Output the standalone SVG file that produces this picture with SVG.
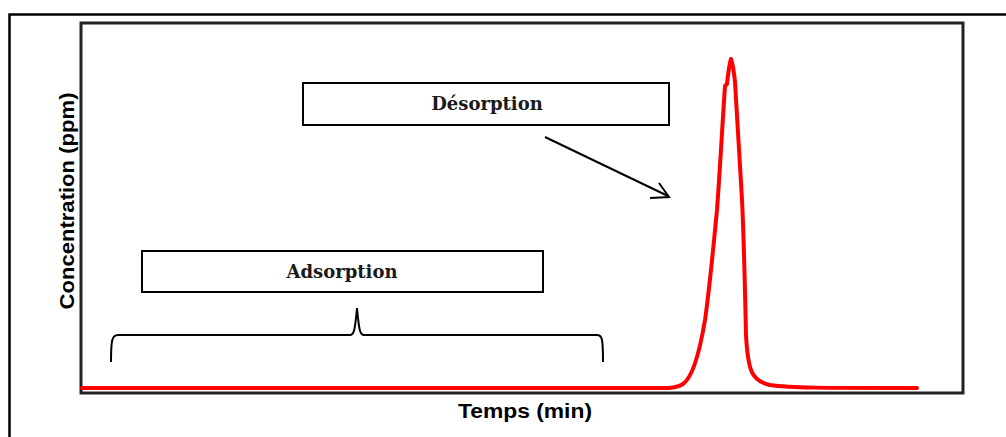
<svg xmlns="http://www.w3.org/2000/svg" width="1006" height="437" viewBox="0 0 1006 437">
<style>
.box{fill:#fff;stroke:#000;stroke-width:2}
.lbl{font-family:"DejaVu Serif","Liberation Serif",serif;font-weight:bold;font-size:18px;fill:#1a1a1a;text-anchor:middle}
.ax{font-family:"Liberation Sans",Arial,sans-serif;font-weight:bold;font-size:20px;fill:#000;text-anchor:middle}
.ln{fill:none;stroke:#000;stroke-width:2}
</style>
<rect x="0" y="0" width="1006" height="437" fill="#fff"/>
<g id="outer-frame"><path d="M9.5 437 V14.5 H1006" fill="none" stroke="#000" stroke-width="2.5"/></g>
<g id="plot-frame"><rect x="81" y="23" width="882" height="370" fill="none" stroke="#222" stroke-width="3"/></g>
<g id="y-label"><text class="ax" transform="translate(74 201) rotate(-90)" textLength="217" lengthAdjust="spacingAndGlyphs">Concentration (ppm)</text></g>
<g id="x-label"><text class="ax" x="525" y="418" textLength="134" lengthAdjust="spacingAndGlyphs">Temps (min)</text></g>
<g id="curve"><path d="M82 388 L640 388 C665 388 675 389 683 384 C693 377 700 350 705 320 C710 285 714 240 717 210 C720 170 722 130 725 86 L727 84 C728 75 729 65 731 59 C733 65 734 72 735 82 C737 120 740 160 742 200 C744 240 745 290 746 335 C748 372 752 381 770 385 C790 388 820 388 917 388" fill="none" stroke="#f00" stroke-width="4" stroke-linecap="round" stroke-linejoin="round"/></g>
<g id="desorption"><rect class="box" x="303" y="83" width="366" height="42"/><text class="lbl" x="487" y="110">Désorption</text></g>
<g id="adsorption"><rect class="box" x="142" y="251" width="401" height="41"/><text class="lbl" x="342" y="278">Adsorption</text></g>
<g id="connectors">
<path class="ln" d="M545 137 L668 196"/>
<path class="ln" d="M650 198 L669 197 L659 183"/>
<path class="ln" d="M111 362 C111 340 112 335 118 335 L350 335 C354 335 355 330 357 308 C359 330 360 335 364 335 L597 335 C602 335 603 338 603 362"/>
</g>
</svg>
